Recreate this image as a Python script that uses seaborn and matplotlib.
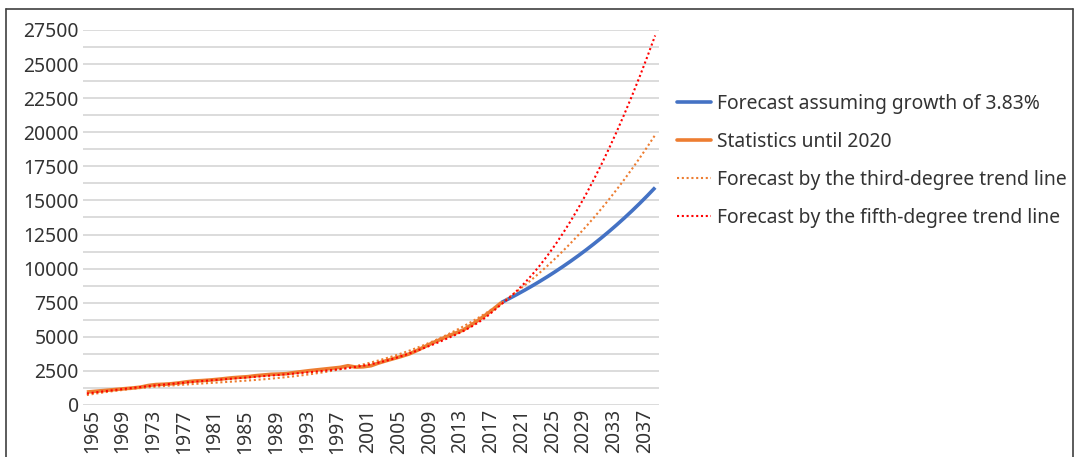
import matplotlib
matplotlib.use("Agg")
import matplotlib.pyplot as plt
import matplotlib.transforms as mtransforms
from matplotlib.lines import Line2D
from matplotlib.ticker import MultipleLocator, FixedLocator
import seaborn as sns
import pandas as pd

# Observed values, 1965-2019
stat_years = list(range(1965, 2020))
stat_values = [
    950, 1000, 1050, 1100, 1150, 1200, 1250, 1310, 1430, 1500,
    1520, 1560, 1620, 1700, 1760, 1790, 1830, 1880, 1940, 2000,
    2040, 2080, 2150, 2200, 2250, 2270, 2300, 2380, 2450, 2520,
    2580, 2640, 2700, 2760, 2880, 2780, 2800, 2880, 3080, 3250,
    3410, 3570, 3750, 4000, 4280, 4550, 4800, 5050, 5270, 5500,
    5850, 6230, 6630, 7060, 7520,
]

# Projection at a constant 3.83% per year, 2019-2039
growth_years = list(range(2019, 2040))
growth_values = [
    7520, 7808, 8107, 8418, 8740, 9075, 9422, 9783, 10158, 10547,
    10951, 11370, 11806, 12258, 12727, 13215, 13721, 14246, 14792, 15359,
    15947,
]

# Trend lines over the whole period, 1965-2039
trend_years = list(range(1965, 2040))
trend3_values = [
    730, 823, 908, 987, 1059, 1126, 1187, 1243, 1295, 1343,
    1387, 1429, 1468, 1506, 1542, 1577, 1612, 1647, 1682, 1719,
    1757, 1797, 1839, 1885, 1934, 1988, 2045, 2108, 2176, 2251,
    2332, 2419, 2515, 2618, 2730, 2850, 2980, 3120, 3271, 3432,
    3605, 3790, 3987, 4197, 4421, 4658, 4910, 5177, 5459, 5757,
    6071, 6402, 6751, 7117, 7502, 7905, 8328, 8770, 9233, 9717,
    10222, 10749, 11298, 11870, 12465, 13084, 13727, 14395, 15088, 15807,
    16552, 17324, 18123, 18950, 19805,
]
trend5_values = [
    840, 915, 985, 1055, 1125, 1190, 1255, 1320, 1380, 1440,
    1495, 1550, 1605, 1655, 1705, 1755, 1800, 1845, 1890, 1935,
    1980, 2025, 2070, 2115, 2160, 2205, 2255, 2305, 2355, 2405,
    2460, 2515, 2575, 2640, 2710, 2790, 2880, 2990, 3110, 3250,
    3410, 3590, 3780, 3990, 4200, 4420, 4650, 4900, 5150, 5420,
    5720, 6060, 6450, 6920, 7400, 7861, 8376, 8944, 9566, 10243,
    10974, 11759, 12600, 13496, 14448, 15456, 16521, 17642, 18820, 20055,
    21347, 22697, 24106, 25573, 27099,
]

labels = [
    "Forecast assuming growth of 3.83%",
    "Statistics until 2020",
    "Forecast by the third-degree trend line",
    "Forecast by the fifth-degree trend line",
]
blue = "#4472C4"
orange = "#ED7D31"
red = "#FF0000"
text_color = "#333333"
fs = 13.9

sns.set_theme(style="white")
plt.rcParams["font.family"] = ["Noto Sans", "DejaVu Sans"]

W, H = 1075, 457
fig = plt.figure(figsize=(W / 100, H / 100), dpi=100)
ax = fig.add_axes([83 / W, (H - 405) / H, (659 - 83) / W, 375 / H])

growth_df = pd.DataFrame({"year": growth_years, "value": growth_values})
stat_df = pd.DataFrame({"year": stat_years, "value": stat_values})
trend_df = pd.DataFrame({"year": trend_years, "t3": trend3_values, "t5": trend5_values})

dot = (0, (1.0, 1.3))
sns.lineplot(data=growth_df, x="year", y="value", ax=ax, color=blue, lw=2.6,
             solid_capstyle="butt")
sns.lineplot(data=stat_df, x="year", y="value", ax=ax, color=orange, lw=2.6,
             solid_capstyle="butt")
sns.lineplot(data=trend_df, x="year", y="t3", ax=ax, color=orange, lw=1.5,
             linestyle=dot)
sns.lineplot(data=trend_df, x="year", y="t5", ax=ax, color=red, lw=1.5,
             linestyle=dot)

ax.set_xlim(1964.5, 2039.5)
ax.set_ylim(0, 27500)
ax.yaxis.set_major_locator(MultipleLocator(2500))
ax.yaxis.set_minor_locator(MultipleLocator(1250))
ax.xaxis.set_major_locator(FixedLocator(list(range(1965, 2038, 4))))
ax.grid(True, which="both", axis="y", color="#d9d9d9", lw=1.3)
ax.grid(False, axis="x")
ax.set_axisbelow(True)
for s in ax.spines.values():
    s.set_visible(False)
ax.set_xlabel("")
ax.set_ylabel("")
ax.tick_params(axis="both", which="both", length=0, labelsize=fs,
               labelcolor=text_color)
ax.tick_params(axis="y", pad=3)
ax.tick_params(axis="x", pad=3)
ax.set_yticklabels([f"{int(v)}" for v in ax.get_yticks()])
ax.set_xticklabels([str(y) for y in range(1965, 2038, 4)], rotation=90)
shift = mtransforms.ScaledTranslation(5 / 100, 0, fig.dpi_scale_trans)
for lbl in ax.get_xticklabels():
    lbl.set_transform(lbl.get_transform() + shift)

handles = [
    Line2D([], [], color=blue, lw=2.6),
    Line2D([], [], color=orange, lw=2.6),
    Line2D([], [], color=orange, lw=1.5, linestyle=dot),
    Line2D([], [], color=red, lw=1.5, linestyle=dot),
]
fig.legend(handles, labels, loc="center left",
           bbox_to_anchor=(677 / W, 1 - 161 / H), frameon=False,
           fontsize=fs, labelcolor=text_color, handlelength=1.75,
           handletextpad=0.3, labelspacing=0.93, borderaxespad=0,
           borderpad=0)

# outer frame around the chart
frame_color = "#404040"
fig.add_artist(Line2D([6 / W, 6 / W], [0, 1 - 9 / H], color=frame_color, lw=1.2))
fig.add_artist(Line2D([6 / W, 1073 / W], [1 - 9 / H, 1 - 9 / H], color=frame_color, lw=1.2))
fig.add_artist(Line2D([1073 / W, 1073 / W], [0, 1 - 9 / H], color=frame_color, lw=1.2))

fig.savefig("out.png", dpi=100)
